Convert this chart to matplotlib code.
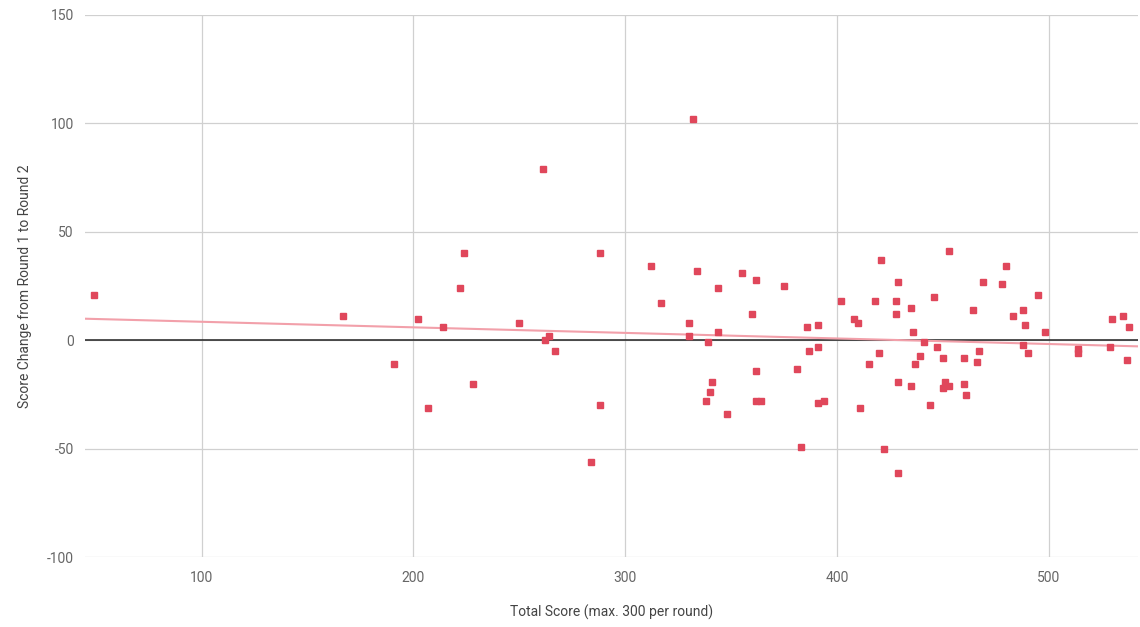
import numpy as np
import matplotlib
matplotlib.use("Agg")
import matplotlib.pyplot as plt

plt.rcParams['font.family'] = ['Roboto', 'DejaVu Sans']
plt.rcParams['axes.unicode_minus'] = False

# --- data ---
total_score = [
    49, 167, 191, 202, 207, 214, 222, 224, 228, 250,
    261, 262, 264, 267, 284, 288, 288, 312, 317, 330,
    330, 332, 334, 338, 339, 340, 341, 344, 344, 348,
    355, 360, 362, 362, 362, 364, 375, 381, 383, 386,
    387, 391, 391, 391, 394, 402, 408, 410, 411, 415,
    418, 420, 421, 422, 428, 428, 429, 429, 429, 435,
    435, 436, 437, 439, 441, 444, 446, 447, 450, 450,
    451, 453, 453, 460, 460, 461, 464, 466, 467, 469,
    478, 480, 483, 488, 488, 489, 490, 495, 498, 514,
    514, 529, 530, 535, 537, 538,
]
score_change = [
    21, 11, -11, 10, -31, 6, 24, 40, -20, 8,
    79, 0, 2, -5, -56, 40, -30, 34, 17, 8,
    2, 102, 32, -28, -1, -24, -19, 24, 4, -34,
    31, 12, 28, -14, -28, -28, 25, -13, -49, 6,
    -5, 7, -3, -29, -28, 18, 10, 8, -31, -11,
    18, -6, 37, -50, 18, 12, 27, -19, -61, 15,
    -21, 4, -11, -7, -1, -30, 20, -3, -8, -22,
    -19, -21, 41, -8, -20, -25, 14, -10, -5, 27,
    26, 34, 11, 14, -2, 7, -6, 21, 4, -4,
    -6, -3, 10, 11, -9, 6,
]
x_ticks = [100, 200, 300, 400, 500]
y_ticks = [-100, -50, 0, 50, 100, 150]

x = np.array(total_score, dtype=float)
y = np.array(score_change, dtype=float)
x_min, x_max = 45, 542

fig = plt.figure(figsize=(11.4, 6.27), dpi=100)
ax = fig.add_axes([0.0746, 0.111, 0.9234, 0.8656])

ax.set_xlim(x_min, x_max)
ax.set_ylim(-100, 150)
ax.set_xticks(x_ticks)
ax.set_yticks(y_ticks)
ax.grid(True, color='#d0d0d0', linewidth=0.9)
ax.set_axisbelow(True)
for s in ax.spines.values():
    s.set_visible(False)
ax.tick_params(length=0, labelsize=10, colors='#666666')
ax.tick_params(axis='x', pad=10)
ax.tick_params(axis='y', pad=8)

# baseline at zero
ax.axhline(0, color='#222222', linewidth=1.1, zorder=2)

# linear trendline
slope, intercept = np.polyfit(x, y, 1)
tx = np.array([x_min, x_max])
ax.plot(tx, slope * tx + intercept, color='#f2a0aa', linewidth=1.5, zorder=3)

ax.plot(x, y, linestyle='none', marker='s', markersize=4.6,
        color='#e0475b', zorder=4)

ax.set_xlabel("Total Score (max. 300 per round)", fontsize=10, color='#444444', labelpad=14)
ax.set_ylabel("Score Change from Round 1 to Round 2", fontsize=10, color='#444444', labelpad=11)

fig.savefig("out.png", dpi=100)
